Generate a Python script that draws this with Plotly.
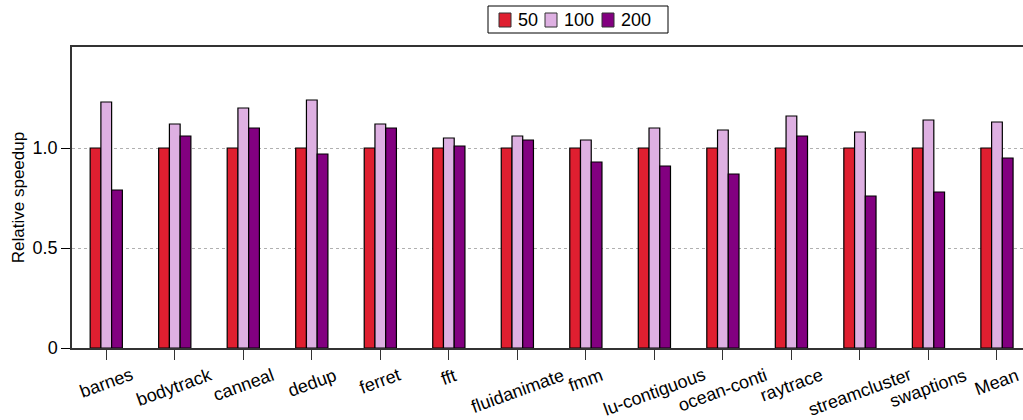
import plotly.graph_objects as go

categories = ["barnes", "bodytrack", "canneal", "dedup", "ferret", "fft", "fluidanimate",
              "fmm", "lu-contiguous", "ocean-conti", "raytrace", "streamcluster", "swaptions", "Mean"]
s50 = [1.0] * 14
s100 = [1.23, 1.12, 1.20, 1.24, 1.12, 1.05, 1.06, 1.04, 1.10, 1.09, 1.16, 1.08, 1.14, 1.13]
s200 = [0.79, 1.06, 1.10, 0.97, 1.10, 1.01, 1.04, 0.93, 0.91, 0.87, 1.06, 0.76, 0.78, 0.95]
series_names = ["50", "100", "200"]
colors = ["#DF1F30", "#DEB0E2", "#820080"]
ytick_vals = [0, 0.5, 1.0]
ytick_text = ["0", "0.5", "1.0"]

FONT = "Liberation Sans, Arial, Helvetica, sans-serif"
W, H = 1023, 420
ML, MR, MT, MB = 72, 0, 47, 72
PW, PH = W - ML - MR, H - MT - MB


def px_x(p):
    return (p - ML) / PW


def px_y(p):
    return (H - MB - p) / PH


fig = go.Figure()
for name, vals, c in zip(series_names, [s50, s100, s200], colors):
    fig.add_trace(go.Bar(x=categories, y=vals, name=name, showlegend=False,
                         marker=dict(color=c, line=dict(color="black", width=1.2))))

for cat in categories:
    fig.add_annotation(x=cat, xref="x", y=0, yref="paper", yanchor="top", xanchor="center",
                       yshift=-14, text=cat, textangle=-20, showarrow=False,
                       font=dict(family=FONT, size=18, color="black"))

# manual legend (compact box like the reference)
fig.add_shape(type="rect", xref="paper", yref="paper",
              x0=px_x(488), x1=px_x(668), y0=px_y(33), y1=px_y(6),
              line=dict(color="black", width=1), fillcolor="white")
legend_sw = [499, 545, 602]
for name, c, sx in zip(series_names, colors, legend_sw):
    fig.add_shape(type="rect", xref="paper", yref="paper",
                  x0=px_x(sx), x1=px_x(sx + 12), y0=px_y(27), y1=px_y(13),
                  line=dict(color="#333333", width=1), fillcolor=c)
    fig.add_annotation(x=px_x(sx + 17), y=px_y(20), xref="paper", yref="paper",
                       xanchor="left", yanchor="middle", text=name, showarrow=False,
                       font=dict(family=FONT, size=18, color="black"))

fig.update_layout(
    width=W, height=H,
    margin=dict(l=ML, r=MR, t=MT, b=MB, autoexpand=False),
    paper_bgcolor="white", plot_bgcolor="white",
    barmode="group", bargap=0.53, bargroupgap=0,
    font=dict(family=FONT, size=18, color="black"),
    showlegend=False,
)
fig.update_xaxes(range=[-0.5, 13.38], showline=True, linecolor="#333333", linewidth=1.5,
                 mirror=True, ticks="outside", ticklen=10, tickcolor="#333333",
                 showticklabels=False, showgrid=False, automargin=False)
fig.update_yaxes(range=[0, 1.505], showline=True, linecolor="#333333", linewidth=1.5,
                 ticks="outside", ticklen=9, tickcolor="black", tickvals=ytick_vals,
                 ticktext=ytick_text, showgrid=True, gridcolor="#b0b0b0", griddash="dot",
                 gridwidth=1, zeroline=False, automargin=False,
                 title=dict(text="Relative speedup", font=dict(size=17), standoff=4),
                 tickfont=dict(size=18))

fig.write_html("out.html", config={"displayModeBar": False},
               post_script="document.body.style.margin='0px';"
                           "document.body.style.overflow='hidden';")
